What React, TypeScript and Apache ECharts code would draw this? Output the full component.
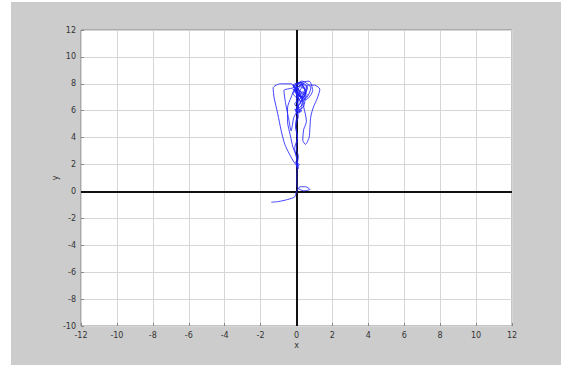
import React, { useEffect, useRef } from "react";
import * as echarts from "echarts";

const xTicks = [-12, 12];
const yTicks = [-10, 12];
const tickStep = 2;

// trajectory (x values, y values)
const trajX = [
  -1.4, -1.0, -0.5, -0.1, 0.0, 0.2, 0.5, 0.75, 0.4, 0.05, 0.02, 0.05, 0.15, -0.05, 0.1, 0.0, -0.1, 0.05, -0.05, 0.1,
  0.3, -0.1, 0.2, 0.0, 0.3, -0.2, 0.2, 0.6, 0.4, -0.1, 0.1, 0.7, 0.9, 0.5, 0.1, -0.3, -0.9, -1.3, -1.25, -1.05,
  -0.85, -0.65, -0.4, -0.15, 0.05, 0.0, -0.2, -0.35, -0.5, -0.5, -0.3, -0.1, 0.3, 0.5, 0.2, 0.0, 0.4, 0.6, 1.0, 1.3,
  1.15, 0.95, 0.8, 0.75, 0.7, 0.5, 0.35, 0.4, 0.55, 0.45, 0.2, -0.2, 0.1, 0.5, 0.8, 0.3, -0.2, -0.7, -0.6, -0.45,
  -0.3, -0.15, 0.1, 0.0, 0.2, 0.4, 0.1, -0.2, 0.0, 0.3, 0.6, 0.3, 0.0, 0.2, 0.5, 0.3, -0.1, 0.1, 0.4, 0.2,
  0.0, 0.15, 0.05, 0.1, 0.0, 0.05, 0.3, 0.1, -0.15, 0.2, 0.45, 0.25, 0.0, -0.1, 0.2, 0.5, 0.35, 0.05, -0.2, 0.1,
  0.4, 0.6, 0.3, 0.0, 0.15, 0.35, 0.1, -0.05, 0.05, 0.0, 0.1, -0.05, 0.05, 0.0, 0.1, 0.05, 0.0, 0.08, -0.02, 0.05,
];
const trajY = [
  -0.8, -0.75, -0.6, -0.4, 0.0, 0.35, 0.35, 0.15, 0.05, 0.3, 1.0, 1.8, 2.0, 2.2, 1.7, 2.5, 3.2, 4.0, 5.0, 5.8,
  6.0, 6.1, 5.9, 6.8, 7.3, 7.9, 8.1, 7.8, 7.0, 7.4, 8.0, 8.2, 7.5, 6.8, 7.2, 8.0, 8.0, 7.7, 7.0, 5.8,
  4.5, 3.5, 2.8, 2.2, 1.9, 2.6, 3.3, 4.2, 5.2, 6.2, 7.0, 7.6, 7.9, 7.4, 6.6, 6.0, 6.3, 7.9, 7.9, 7.6,
  6.9, 6.3, 5.6, 4.8, 4.0, 3.5, 3.8, 4.6, 5.2, 6.0, 7.1, 7.6, 7.2, 6.9, 7.7, 8.2, 7.7, 7.5, 6.5, 5.5,
  4.5, 5.5, 6.2, 6.9, 7.5, 8.0, 7.8, 7.3, 7.0, 7.4, 7.2, 6.7, 7.1, 7.8, 7.5, 7.0, 6.5, 6.2, 6.6, 7.3,
  7.8, 7.5, 6.0, 5.9, 6.1, 5.8, 6.3, 7.0, 7.8, 8.1, 7.6, 7.0, 7.3, 7.9, 8.0, 7.4, 6.9, 7.5, 7.9, 7.6,
  7.2, 7.7, 8.0, 7.6, 7.1, 6.8, 6.4, 6.0, 5.7, 5.9, 5.6, 4.8, 4.0, 3.2, 2.6, 2.1, 1.8, 2.0, 1.9, 2.1,
];

const axisNames = { x: "x", y: "y" };

export default function App() {
  const ref = useRef<HTMLDivElement>(null);
  useEffect(() => {
    if (!ref.current) return;
    const chart = echarts.init(ref.current, null, { renderer: "svg" });
    const data = trajX.map((x, i) => [x, trajY[i]]);
    const labelStyle = { color: "#333", fontSize: 8, fontFamily: "DejaVu Sans" };
    chart.setOption({
      animation: false,
      backgroundColor: "transparent",
      grid: {
        left: 81,
        right: 49,
        top: 30,
        bottom: 39,
        show: true,
        backgroundColor: "#ffffff",
        borderColor: "#888",
        borderWidth: 1,
      },
      xAxis: {
        type: "value",
        min: xTicks[0],
        max: xTicks[1],
        interval: tickStep,
        name: axisNames.x,
        nameLocation: "middle",
        nameGap: 15,
        nameMoveOverlap: false,
        nameTextStyle: labelStyle,
        axisLine: { onZero: false, show: false },
        axisTick: { show: true, inside: true, length: 3, lineStyle: { color: "#888" } },
        axisLabel: { ...labelStyle, margin: 5 },
        splitLine: { show: true, lineStyle: { color: "#d6d6d6", width: 1 } },
      },
      yAxis: {
        type: "value",
        min: yTicks[0],
        max: yTicks[1],
        interval: tickStep,
        name: axisNames.y,
        nameLocation: "middle",
        nameGap: 22,
        nameMoveOverlap: false,
        nameRotate: 90,
        nameTextStyle: labelStyle,
        axisLine: { onZero: false, show: false },
        axisTick: { show: true, inside: true, length: 3, lineStyle: { color: "#888" } },
        axisLabel: { ...labelStyle, margin: 5 },
        splitLine: { show: true, lineStyle: { color: "#d6d6d6", width: 1 } },
      },
      series: [
        {
          type: "line",
          data,
          showSymbol: false,
          symbol: "none",
          smooth: 0.25,
          lineStyle: { color: "#2222ff", width: 1, opacity: 0.85 },
          markLine: {
            silent: true,
            symbol: "none",
            label: { show: false },
            lineStyle: { color: "#111", width: 2, type: "solid" },
            data: [{ xAxis: 0 }, { yAxis: 0 }],
            z: 1,
          },
          z: 3,
        },
      ],
    });
    return () => chart.dispose();
  }, []);
  return (
    <div style={{ position: "absolute", left: 0, top: 0, width: 561, height: 365, background: "#fff" }}>
      <div style={{ position: "absolute", left: 11, top: 2, width: 550, height: 363, background: "#cccccc" }} />
      <div ref={ref} style={{ position: "absolute", left: 0, top: 0, width: 561, height: 365 }} />
    </div>
  );
}
